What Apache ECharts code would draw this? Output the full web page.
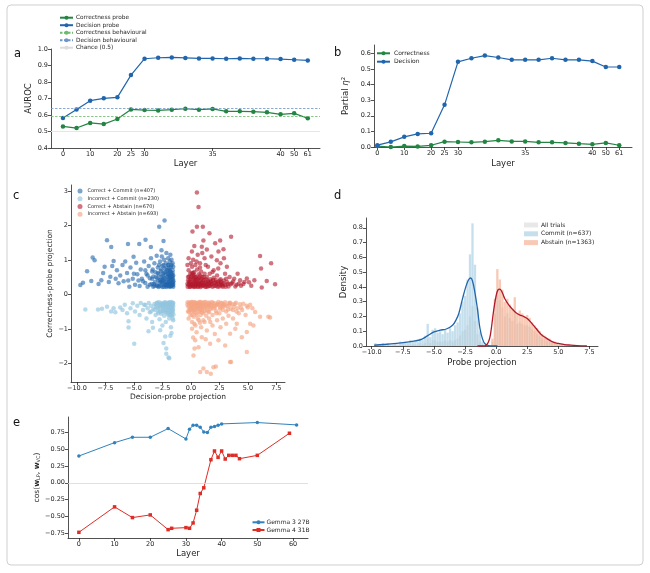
<!DOCTYPE html>
<html>
<head>
<meta charset="utf-8">
<script src="https://cdn.jsdelivr.net/npm/echarts@6/dist/echarts.min.js"></script>
<style>
  html, body { margin: 0; background: #fff; }
  #chart { width: 650px; height: 573px; }
</style>
</head>
<body>
<div id="chart"></div>
<script>
// ---- panel a / b : per-layer probe results ----
const layers = [0, 5, 10, 15, 20, 25, 30, 31, 32, 33, 34, 35, 36, 37, 38, 39, 40, 50, 61];
const shownLayerIdx = [0, 2, 4, 5, 6, 11, 16, 17, 18];
const aurocCorrectness = [0.531, 0.521, 0.552, 0.545, 0.576, 0.634, 0.630, 0.628, 0.632, 0.638, 0.632, 0.637, 0.622, 0.622, 0.620, 0.616, 0.604, 0.610, 0.580];
const aurocDecision = [0.582, 0.634, 0.687, 0.701, 0.707, 0.842, 0.941, 0.947, 0.949, 0.946, 0.943, 0.943, 0.941, 0.943, 0.941, 0.941, 0.939, 0.935, 0.931];
const behavCorrectness = 0.590;
const behavDecision = 0.644;
const chanceLevel = 0.5;
const etaCorrectness = [0.006, 0.0, 0.006, 0.004, 0.011, 0.034, 0.032, 0.030, 0.034, 0.043, 0.036, 0.036, 0.030, 0.030, 0.026, 0.021, 0.017, 0.026, 0.011];
const etaDecision = [0.012, 0.033, 0.065, 0.084, 0.088, 0.270, 0.545, 0.568, 0.585, 0.573, 0.558, 0.558, 0.558, 0.568, 0.558, 0.558, 0.550, 0.512, 0.512];

// ---- panel c : projections (decision, correctness) ----
const correctCommit = [
  [-9.7,0.27],[-9.47,0.34],[-9.11,0.67],[-8.74,0.39],[-8.62,1.07],[-8.45,0.99],[-7.86,0.41],[-7.57,0.80],[-7.36,1.57],[-6.99,1.37],
  [-6.78,0.97],[-7.07,0.51],[-6.49,0.70],[-6.35,0.32],[-5.76,0.95],[-5.52,1.46],[-5.03,1.09],[-4.53,1.46],[-3.98,1.58],[-3.51,1.37],
  [-2.78,1.96],[-2.31,2.14],[-2.40,1.55],[-2.58,1.28],
  [-8.1,0.3],[-7.7,0.62],[-7.2,0.36],[-6.9,0.82],[-6.6,0.45],[-6.2,0.55],[-6.0,0.85],[-5.9,0.38],[-5.6,0.62],[-5.4,0.22],
  [-5.3,0.78],[-5.1,0.45],[-4.9,0.28],[-4.8,0.92],[-4.7,0.58],[-4.5,0.24],[-4.4,0.72],[-4.3,0.45],[-4.1,0.95],[-4.0,0.33],
  [-3.9,0.6],[-3.8,0.22],[-3.7,0.82],[-3.6,0.47],[-3.5,1.05],[-3.45,0.3],[-3.4,0.66],
  [-3.3,0.22],[-3.3,0.52],[-3.2,0.9],[-3.15,0.36],[-3.1,0.64],[-3.0,0.26],[-3.0,1.12],[-2.95,0.47],[-2.9,0.78],[-2.85,0.21],
  [-2.8,0.58],[-2.75,0.34],[-2.7,0.95],[-2.7,0.42],[-2.65,0.68],[-2.6,0.26],[-2.55,1.1],[-2.5,0.52],[-2.5,0.82],[-2.45,0.32],
  [-2.4,0.62],[-2.35,0.22],[-2.35,1.0],[-2.3,0.45],[-2.3,0.75],[-2.25,0.3],[-2.2,0.56],[-2.2,0.9],[-2.15,0.21],[-2.15,1.2],
  [-2.1,0.38],[-2.1,0.68],[-2.05,0.27],[-2.05,0.5],[-2.0,0.85],[-2.0,1.05],[-1.95,0.34],[-1.95,0.6],[-1.9,0.23],[-1.9,0.45],
  [-1.9,0.75],[-1.85,0.3],[-1.85,0.55],[-1.85,0.95],[-1.8,0.4],[-1.8,0.66],[-1.8,1.15],[-1.75,0.25],[-1.75,0.5],[-1.75,0.8],
  [-1.7,0.33],[-1.7,0.6],[-1.7,1.0],[-1.65,0.28],[-1.65,0.45],[-1.6,0.37],[-1.6,0.7],[-1.6,0.9],[-1.55,0.22],[-1.55,0.55],
  [-1.55,0.31],[-1.6,0.5],[-2.2,0.26],[-2.6,0.36],[-3.6,0.28],[-4.2,0.38],[-2.0,0.31],[-1.7,0.24],[-2.4,0.4],[-1.9,0.29],
  [-3.4,0.45],[-3.35,0.72],[-3.25,0.3],[-3.05,0.5],[-2.95,0.25],[-2.9,0.62],[-2.85,0.4],[-2.8,0.85],[-2.75,0.24],[-2.65,0.5],
  [-2.6,0.72],[-2.55,0.38],[-2.5,0.21],[-2.45,0.6],[-2.4,0.85],[-2.35,0.48],[-2.3,0.28],[-2.25,0.65],[-2.2,0.36],[-2.15,0.78],
  [-2.1,0.26],[-2.05,0.6],[-2.0,0.45],[-1.95,0.25],[-1.95,0.85],[-1.9,0.55],[-1.88,0.38],[-1.85,0.7],[-1.82,0.22],[-1.8,0.5],
  [-1.78,0.3],[-1.75,0.62],[-1.72,0.42],[-1.7,0.85],[-1.68,0.27],[-1.65,0.55],[-1.62,0.33],[-1.6,0.62],[-1.58,0.44],[-1.56,0.27],
  [-1.55,0.8],[-1.53,0.38],[-3.8,0.55],[-4.0,0.7],[-4.6,0.4],[-5.0,0.6],[-5.5,0.4],[-3.2,0.25],[-2.5,0.42],[-2.0,0.7]
];
const incorrectCommit = [
  [-9.26,-0.44],[-8.15,-0.44],[-7.8,-0.42],[-7.36,-0.36],[-6.78,-0.40],[-6.63,-0.52],[-6.2,-0.38],[-5.47,-0.78],[-5.47,-0.96],[-4.97,-1.43],
  [-3.72,-1.07],[-3.33,-0.97],[-2.69,-1.04],[-2.25,-1.22],[-2.16,-1.57],[-2.16,-1.72],[-1.96,-1.83],[-1.90,-1.85],[-2.40,-1.41],[-1.8,-1.2],
  [-1.7,-1.12],[-7.0,-0.5],[-6.0,-0.45],[-5.8,-0.3],[-5.6,-0.55],[-5.3,-0.4],[-5.1,-0.26],[-4.9,-0.5],[-4.7,-0.33],[-4.5,-0.6],
  [-4.4,-0.25],[-4.2,-0.45],[-4.0,-0.31],[-3.9,-0.7],[-3.8,-0.4],[-3.7,-0.25],[-3.6,-0.52],[-3.5,-0.33],[-3.4,-0.8],[-3.3,-0.42],
  [-3.2,-0.28],[-3.1,-0.6],[-3.0,-0.37],[-2.95,-0.24],[-2.9,-0.5],[-2.8,-0.31],[-2.75,-0.72],[-2.7,-0.42],[-2.6,-0.25],[-2.6,-0.56],
  [-2.5,-0.35],[-2.5,-0.9],[-2.45,-0.47],[-2.4,-0.28],[-2.35,-0.62],[-2.3,-0.39],[-2.25,-0.23],[-2.2,-0.52],[-2.2,-0.8],[-2.15,-0.33],
  [-2.1,-0.45],[-2.05,-0.26],[-2.0,-0.6],[-2.0,-0.37],[-1.95,-0.5],[-1.9,-0.29],[-1.9,-0.7],[-1.85,-0.42],[-1.8,-0.24],[-1.8,-0.55],
  [-1.75,-0.34],[-1.75,-0.95],[-1.7,-0.48],[-1.7,-0.28],[-1.65,-0.62],[-1.65,-0.4],[-1.6,-0.25],[-1.6,-0.52],[-1.55,-0.35],[-1.55,-0.75],
  [-2.3,-0.27],[-1.85,-0.32],[-2.7,-0.3],[-3.1,-0.33],
  [-3.2,-0.45],[-3.0,-0.25],[-2.9,-0.4],[-2.85,-0.55],[-2.8,-0.23],[-2.7,-0.5],[-2.65,-0.35],[-2.55,-0.28],[-2.5,-0.5],[-2.45,-0.3],
  [-2.4,-0.4],[-2.35,-0.24],[-2.3,-0.5],[-2.25,-0.36],[-2.2,-0.28],[-2.15,-0.45],[-2.1,-0.3],[-2.05,-0.55],[-2.0,-0.24],[-1.98,-0.42],
  [-1.95,-0.33],[-1.9,-0.5],[-1.88,-0.23],[-1.85,-0.6],[-1.82,-0.36],[-1.8,-0.45],[-1.77,-0.28],[-1.74,-0.6],[-1.72,-0.38],[-1.7,-0.22],
  [-1.68,-0.5],[-1.65,-0.3],[-1.62,-0.44],[-1.6,-0.7],[-1.58,-0.3],[-1.56,-0.45],[-1.54,-0.25],[-1.53,-0.58],[-3.5,-0.5],[-4.1,-0.3]
];
const correctAbstain = [
  [0.53,2.95],[0.67,2.53],[0.14,1.82],[0.53,1.96],[1.05,1.96],[1.63,1.77],[1.10,1.56],[2.13,1.48],[2.57,1.56],[3.53,1.67],
  [2.86,1.31],[2.42,1.24],[6.07,1.11],[7.04,0.90],[7.39,0.29],[6.16,0.75],[5.57,0.41],[6.66,0.39],[6.22,0.20],[4.91,0.46],
  [4.32,0.41],[0.96,1.38],[0.09,1.24],[2.28,0.99],[3.16,0.80],
  [0.2,1.0],[0.4,0.85],[0.6,1.15],[0.8,0.9],[1.2,1.05],[1.5,0.8],[1.8,1.1],[2.0,0.7],[2.6,0.9],[3.0,0.6],
  [3.4,0.5],[3.8,0.45],[4.1,0.6],[4.6,0.3],[5.1,0.35],[5.3,0.25],[4.0,0.28],[3.6,0.32],[0.3,1.4],[1.4,1.3],[2.9,1.05],
  [-0.3,0.3],[-0.25,0.5],[-0.2,0.7],[-0.15,0.36],[-0.1,0.22],[-0.05,0.6],[0.0,0.45],[0.05,0.28],[0.1,0.8],[0.15,0.55],
  [0.2,0.33],[0.25,0.21],[0.3,0.65],[0.35,0.42],[0.4,0.26],[0.45,0.5],[0.5,0.33],[0.55,0.72],[0.6,0.23],[0.65,0.45],
  [0.7,0.58],[0.75,0.3],[0.8,0.4],[0.85,0.21],[0.9,0.66],[0.95,0.34],[1.0,0.5],[1.1,0.26],[1.15,0.42],[1.2,0.6],
  [1.3,0.32],[1.35,0.22],[1.4,0.5],[1.5,0.36],[1.6,0.26],[1.65,0.6],[1.7,0.44],[1.8,0.3],[1.9,0.22],[2.0,0.48],
  [2.1,0.33],[2.2,0.25],[2.3,0.55],[2.4,0.36],[2.5,0.23],[2.6,0.44],[2.7,0.3],[2.8,0.22],[2.9,0.4],[3.0,0.28],
  [3.2,0.35],[3.3,0.23],[3.5,0.29],[3.7,0.37],[3.9,0.23],[4.2,0.31],[4.4,0.25],[4.7,0.36],[0.0,0.9],[-0.2,1.05],
  [0.5,0.95],[0.8,0.78],[1.3,0.85],[1.0,1.2],[0.2,0.62],[-0.3,0.85],[1.9,0.65],[2.4,0.75],[0.1,0.24],[0.6,0.3],
  [1.2,0.28],[1.8,0.38],[2.2,0.42],[2.6,0.27],[3.1,0.45],[0.35,0.3],[0.9,0.27],[1.5,0.23],[-0.1,0.4],[0.3,0.5],
  [-0.28,0.22],[-0.25,0.4],[-0.2,0.28],[-0.15,0.52],[-0.12,0.3],[-0.05,0.22],[0.0,0.34],[0.05,0.5],[0.08,0.62],[0.12,0.3],
  [0.18,0.44],[0.22,0.25],[0.28,0.38],[0.32,0.55],[0.38,0.22],[0.42,0.4],[0.48,0.28],[0.52,0.46],[0.58,0.36],[0.62,0.22],
  [0.68,0.34],[0.72,0.48],[0.78,0.26],[0.82,0.55],[0.88,0.33],[0.92,0.44],[0.98,0.24],[1.05,0.38],[1.12,0.5],[1.18,0.32],
  [1.25,0.22],[1.32,0.44],[1.42,0.3],[1.48,0.4],[1.58,0.33],[1.68,0.24],[1.75,0.36],[1.85,0.3],[1.95,0.42],[2.05,0.24],
  [2.15,0.36],[2.25,0.3],[2.35,0.22],[2.45,0.32],[2.55,0.4],[2.65,0.35],[2.75,0.26],[2.85,0.32],[3.05,0.22],[3.25,0.3]
];
const incorrectAbstain = [
  [1.10,-2.15],[1.40,-2.25],[1.75,-2.30],[2.19,-2.09],[3.53,-1.96],[0.23,-1.77],[0.32,-1.57],[0.67,-1.53],[0.38,-1.33],[0.96,-1.24],
  [1.69,-1.43],[2.42,-1.33],[3.01,-1.48],[3.44,-1.14],[4.03,-0.85],[4.47,-1.24],[4.91,-1.09],[5.2,-0.85],[6.07,-0.65],[6.95,-0.67],
  [5.64,-0.51],[6.80,-0.65],[5.49,-0.90],[4.91,-1.67],[3.44,-1.96],[1.98,-2.11],[0.82,-2.25],
  [0.1,-1.0],[0.3,-0.85],[0.5,-1.1],[0.7,-0.75],[0.9,-0.95],[1.2,-0.8],[1.4,-1.05],[1.6,-0.7],[1.9,-0.9],[2.1,-1.15],
  [2.3,-0.75],[2.6,-0.95],[2.8,-0.7],[3.1,-0.85],[3.3,-0.62],[3.7,-0.7],[4.2,-0.55],[4.5,-0.45],[4.8,-0.6],[5.0,-0.38],
  [5.4,-0.4],[3.9,-1.0],[1.3,-1.3],[0.2,-1.25],
  [-0.3,-0.3],[-0.25,-0.5],[-0.2,-0.7],[-0.15,-0.24],[-0.1,-0.4],[-0.05,-0.6],[0.0,-0.32],[0.05,-0.22],[0.1,-0.5],[0.15,-0.37],
  [0.2,-0.27],[0.25,-0.65],[0.3,-0.44],[0.35,-0.23],[0.4,-0.33],[0.45,-0.55],[0.5,-0.26],[0.55,-0.42],[0.6,-0.7],[0.65,-0.3],
  [0.7,-0.5],[0.75,-0.22],[0.8,-0.37],[0.85,-0.6],[0.9,-0.27],[0.95,-0.45],[1.0,-0.32],[1.1,-0.55],[1.15,-0.23],[1.2,-0.4],
  [1.3,-0.29],[1.35,-0.62],[1.4,-0.46],[1.5,-0.24],[1.55,-0.35],[1.6,-0.52],[1.7,-0.29],[1.8,-0.42],[1.85,-0.22],[1.9,-0.6],
  [2.0,-0.34],[2.1,-0.26],[2.2,-0.48],[2.3,-0.31],[2.4,-0.22],[2.5,-0.55],[2.6,-0.37],[2.7,-0.26],[2.8,-0.45],[2.9,-0.29],
  [3.0,-0.23],[3.1,-0.5],[3.2,-0.34],[3.35,-0.25],[3.5,-0.42],[3.6,-0.29],[3.8,-0.36],[3.95,-0.24],[4.1,-0.4],[4.3,-0.29],
  [4.6,-0.27],[4.9,-0.33],[5.2,-0.3],[0.1,-0.8],[0.4,-0.9],[0.8,-0.82],[1.1,-0.75],[1.7,-0.8],[0.0,-0.45],[0.6,-0.35],
  [1.25,-0.33],[2.05,-0.4],[2.75,-0.33],[3.4,-0.3],[0.3,-0.3],[0.9,-0.38],[1.6,-0.31],[2.35,-0.28],
  [-0.28,-0.23],[-0.22,-0.36],[-0.18,-0.5],[-0.12,-0.28],[-0.08,-0.45],[-0.02,-0.24],[0.02,-0.38],[0.08,-0.3],[0.12,-0.6],[0.18,-0.22],
  [0.22,-0.4],[0.28,-0.52],[0.32,-0.3],[0.38,-0.45],[0.42,-0.24],[0.48,-0.36],[0.52,-0.6],[0.58,-0.28],[0.62,-0.42],[0.68,-0.24],
  [0.72,-0.35],[0.78,-0.5],[0.82,-0.28],[0.88,-0.22],[0.92,-0.4],[0.98,-0.52],[1.05,-0.26],[1.12,-0.36],[1.18,-0.48],[1.28,-0.22],
  [1.38,-0.32],[1.45,-0.38],[1.52,-0.5],[1.62,-0.24],[1.72,-0.4],[1.78,-0.32],[1.95,-0.26],[2.12,-0.36],[2.25,-0.55],[2.45,-0.3],
  [2.55,-0.42],[2.65,-0.24],[2.85,-0.36],[3.05,-0.32],[3.25,-0.44],[3.45,-0.24],[3.7,-0.45],[3.85,-0.28],[4.0,-0.5],[4.4,-0.38]
];

// ---- panel d : histograms (bin width 0.2) and density curves ----
const binWidth = 0.2;
const commitFirstBin = -9.7;
const commitHist = [0.02,0.01,0.01,0.02,0.01,0.02,0.01,0.01,0.02,0.01,
                    0.03,0.02,0.03,0.02,0.04,0.03,0.04,0.03,0.05,0.04,
                    0.07,0.15,0.06,0.11,0.12,0.09,0.10,0.08,0.11,0.09,
                    0.12,0.10,0.14,0.16,0.22,0.30,0.34,0.45,0.62,0.83,
                    0.55,0.26,0.10,0.03];
const abstainFirstBin = -0.3;
const abstainHist = [0.05,0.32,0.52,0.45,0.38,0.30,0.32,0.28,0.25,0.33,
                     0.22,0.24,0.22,0.20,0.21,0.19,0.16,0.14,0.12,0.10,
                     0.08,0.07,0.05,0.05,0.03,0.03,0.02,0.02,0.015,0.01,
                     0.01,0.005,0.005,0.005];
const allFirstBin = -9.7;
const allHist = [0.01,0.0,0.0,0.01,0.0,0.01,0.0,0.0,0.01,0.0,
                 0.01,0.01,0.01,0.01,0.01,0.01,0.01,0.01,0.02,0.01,
                 0.02,0.05,0.02,0.04,0.04,0.03,0.03,0.03,0.04,0.03,
                 0.04,0.03,0.04,0.05,0.07,0.10,0.11,0.14,0.20,0.27,
                 0.17,0.08,0.03,0.01,0.0,0.0,0.0,
                 0.03,0.22,0.35,0.31,0.26,0.20,0.22,0.19,0.17,0.23,
                 0.15,0.16,0.15,0.14,0.14,0.13,0.11,0.10,0.08,0.07,
                 0.05,0.05,0.03,0.03,0.02,0.02,0.01,0.01,0.01,0.01,
                 0.01,0.0,0.0,0.0];
const kdeCommitX = [-9.8,-9,-8,-7,-6.5,-6,-5.5,-5,-4.5,-4,-3.5,-3.2,-3,-2.7,-2.4,-2.2,-2.05,-1.9,-1.7,-1.5,-1.3,-1.1,-0.9,-0.6,-0.3,0.1];
const kdeCommitY = [0.005,0.01,0.018,0.028,0.035,0.045,0.07,0.095,0.107,0.115,0.14,0.18,0.22,0.32,0.41,0.45,0.46,0.44,0.36,0.25,0.12,0.05,0.015,0.002,0,0];
const kdeAbstainX = [-1.5,-1.0,-0.8,-0.6,-0.45,-0.2,0.0,0.15,0.3,0.5,0.7,1.0,1.3,1.6,1.9,2.2,2.5,2.8,3.2,3.6,4.0,4.5,5.0,5.5,6.0,6.5,7.0,7.3];
const kdeAbstainY = [0,0,0.005,0.03,0.08,0.24,0.34,0.38,0.385,0.36,0.32,0.28,0.25,0.225,0.21,0.2,0.186,0.16,0.12,0.08,0.055,0.03,0.017,0.01,0.006,0.003,0.001,0];

// ---- panel e : cosine between probe directions ----
const gemma3Layers = [0, 10, 15, 20, 25, 30, 31, 32, 33, 34, 35, 36, 37, 38, 39, 40, 50, 61];
const gemma3Cos = [0.40, 0.60, 0.68, 0.68, 0.81, 0.655, 0.80, 0.86, 0.86, 0.83, 0.76, 0.75, 0.83, 0.84, 0.86, 0.88, 0.90, 0.865];
const gemma4Layers = [0, 10, 15, 20, 25, 26, 30, 31, 32, 33, 34, 35, 37, 38, 39, 40, 41, 42, 43, 44, 45, 50, 59];
const gemma4Cos = [-0.74, -0.36, -0.52, -0.48, -0.70, -0.68, -0.67, -0.68, -0.60, -0.41, -0.16, -0.075, 0.345, 0.475, 0.38, 0.475, 0.355, 0.41, 0.41, 0.41, 0.36, 0.41, 0.74];

const FONT = 'DejaVu Sans';
const INK = '#262626';
const GREEN = '#238443', BLUE = '#2166ac';

function minus(s) { return String(s).replace('-', '\u2212'); }
function merge(a, b) {
  const out = Object.assign({}, a);
  for (const k in b) {
    if (b[k] && typeof b[k] === 'object' && !Array.isArray(b[k]) && a[k] && typeof a[k] === 'object') out[k] = merge(a[k], b[k]);
    else out[k] = b[k];
  }
  return out;
}
function axis(grid, o) {
  return merge({
    gridIndex: grid, type: 'value',
    splitLine: { show: false },
    axisLine: { show: true, onZero: false, lineStyle: { color: INK, width: 0.8 } },
    axisTick: { show: true, length: 3, lineStyle: { color: INK, width: 0.8 } },
    axisLabel: { fontSize: 6.5, color: INK, margin: 3, fontFamily: FONT },
    nameLocation: 'middle',
    nameTextStyle: { fontSize: 8.5, color: INK, fontFamily: FONT }
  }, o);
}
function ticks(vals, fmt) {
  return { axisLabel: { customValues: vals, formatter: fmt }, axisTick: { customValues: vals } };
}
const pairs = (xs, ys) => xs.map((x, i) => [x, ys[i]]);
const idxPairs = ys => ys.map((y, i) => [i, y]);
const binPairs = (start, hs) => hs.map((h, i) => [+(start + i * binWidth).toFixed(2), h]);
const legendText = (size, pad) => ({ fontSize: size, lineHeight: size + 1.2, color: INK, fontFamily: FONT, padding: [0, 0, 0, pad] });

const layerFmt = v => String(layers[Math.round(v)]);
const oneDec = v => minus(v.toFixed(1));
const twoDec = v => minus(v.toFixed(2));

const option = {
  animation: false,
  backgroundColor: '#fff',
  textStyle: { fontFamily: FONT },
  grid: [
    { left: 51, top: 49, width: 269, height: 99 },
    { left: 374, top: 45, width: 258, height: 102 },
    { left: 71, top: 185, width: 214, height: 197 },
    { left: 366, top: 218, width: 232, height: 128 },
    { left: 68, top: 417, width: 240, height: 121 }
  ],
  xAxis: [
    axis(0, merge({ min: -0.88, max: 18.9, name: 'Layer', nameGap: 11.5 }, ticks(shownLayerIdx, layerFmt))),
    axis(1, merge({ min: -0.25, max: 18.95, name: 'Layer', nameGap: 12 }, ticks(shownLayerIdx, layerFmt))),
    axis(2, merge({ min: -10.52, max: 8.26, name: 'Decision-probe projection', nameGap: 11, nameTextStyle: { fontSize: 7.5 } },
      ticks([-10, -7.5, -5, -2.5, 0, 2.5, 5, 7.5], oneDec))),
    axis(3, merge({ min: -10.46, max: 8.19, name: 'Probe projection', nameGap: 12 },
      ticks([-10, -7.5, -5, -2.5, 0, 2.5, 5, 7.5], oneDec))),
    axis(4, merge({ min: -3.05, max: 64.2, name: 'Layer', nameGap: 11 }, ticks([0, 10, 20, 30, 40, 50, 60], v => String(v))))
  ],
  yAxis: [
    axis(0, { min: 0.4, max: 1.0, interval: 0.1, name: 'AUROC', nameGap: 16, axisLabel: { formatter: oneDec } }),
    axis(1, merge({ min: 0, max: 0.653, name: 'Partial {i|η}²', nameGap: 24,
      nameTextStyle: { rich: { i: { fontStyle: 'italic', fontSize: 8.5, fontFamily: FONT } } } },
      ticks([0, 0.1, 0.2, 0.3, 0.4, 0.5, 0.6], oneDec))),
    axis(2, merge({ min: -2.54, max: 3.17, name: 'Correctness-probe projection', nameGap: 13.5, nameTextStyle: { fontSize: 7.5 } },
      ticks([-2, -1, 0, 1, 2, 3], v => minus(v)))),
    axis(3, merge({ min: 0, max: 0.866, name: 'Density', nameGap: 15.5 },
      ticks([0, 0.1, 0.2, 0.3, 0.4, 0.5, 0.6, 0.7, 0.8], oneDec))),
    axis(4, merge({ min: -0.825, max: 0.983, name: '{t|cos(}{b|w}{s|LP}{t|, }{b|w}{s|VC}{t|)}', nameGap: 22,
      nameTextStyle: { rich: {
        t: { fontSize: 7.5, fontFamily: FONT, color: INK },
        b: { fontSize: 7.5, fontFamily: FONT, fontWeight: 'bold', color: INK },
        s: { fontSize: 5, fontFamily: FONT, color: INK, verticalAlign: 'bottom' } } } },
      ticks([-0.75, -0.5, -0.25, 0, 0.25, 0.5, 0.75], twoDec)))
  ],
  legend: [
    { data: ['Correctness probe', 'Decision probe', 'Correctness behavioural', 'Decision behavioural', 'Chance (0.5)'],
      orient: 'vertical', left: 59, top: 14.2, itemWidth: 13, itemHeight: 5, itemGap: 0.5, padding: 0,
      textStyle: legendText(5.8, -2) },
    { data: ['Correctness', 'Decision'], orient: 'vertical', left: 376, top: 49.7, itemWidth: 13, itemHeight: 5,
      itemGap: 1.2, padding: 0, textStyle: legendText(6, -1) },
    { data: ['Correct + Commit (n=407)', 'Incorrect + Commit (n=230)', 'Correct + Abstain (n=670)', 'Incorrect + Abstain (n=693)'],
      orient: 'vertical', left: 77.5, top: 188, itemWidth: 5, itemHeight: 5, itemGap: 1.5, padding: 0, icon: 'circle',
      textStyle: legendText(5, 0) },
    { data: ['All trials', 'Commit (n=637)', 'Abstain (n=1363)'], orient: 'vertical', left: 524, top: 221.4,
      itemWidth: 14, itemHeight: 5, itemGap: 1.6, padding: 0, icon: 'rect', textStyle: legendText(6, -2) },
    { data: ['Gemma 3 27B', 'Gemma 4 31B'], orient: 'vertical', left: 251.5, top: 518.7, itemWidth: 12, itemHeight: 5,
      itemGap: 0.5, padding: 0, textStyle: legendText(6, -3) }
  ],
  series: [
    // panel a
    { name: 'Chance (0.5)', type: 'line', xAxisIndex: 0, yAxisIndex: 0, data: [], symbol: 'none',
      lineStyle: { color: '#dcdcdc', width: 0.9 }, itemStyle: { color: '#dcdcdc' },
      markLine: { silent: true, symbol: 'none', label: { show: false }, lineStyle: { color: '#e6e6e6', width: 1, type: 'solid' },
        data: [{ yAxis: chanceLevel }] } },
    { name: 'Correctness behavioural', type: 'line', xAxisIndex: 0, yAxisIndex: 0, data: [], symbol: 'none',
      lineStyle: { color: '#6dbb6d', width: 0.8, type: [2.5, 1.5] }, itemStyle: { color: '#6dbb6d' },
      markLine: { silent: true, symbol: 'none', label: { show: false }, lineStyle: { color: '#6dbb6d', width: 0.8, type: [2.5, 1.5] },
        data: [{ yAxis: behavCorrectness }] } },
    { name: 'Decision behavioural', type: 'line', xAxisIndex: 0, yAxisIndex: 0, data: [], symbol: 'none',
      lineStyle: { color: '#6f95c8', width: 0.8, type: [2.5, 1.5] }, itemStyle: { color: '#6f95c8' },
      markLine: { silent: true, symbol: 'none', label: { show: false }, lineStyle: { color: '#6f95c8', width: 0.8, type: [2.5, 1.5] },
        data: [{ yAxis: behavDecision }] } },
    { name: 'Correctness probe', type: 'line', xAxisIndex: 0, yAxisIndex: 0, data: idxPairs(aurocCorrectness),
      symbol: 'circle', symbolSize: 4.5, lineStyle: { color: GREEN, width: 1.2 }, itemStyle: { color: GREEN } },
    { name: 'Decision probe', type: 'line', xAxisIndex: 0, yAxisIndex: 0, data: idxPairs(aurocDecision),
      symbol: 'circle', symbolSize: 4.5, lineStyle: { color: BLUE, width: 1.2 }, itemStyle: { color: BLUE } },
    // panel b
    { name: 'Correctness', type: 'line', xAxisIndex: 1, yAxisIndex: 1, data: idxPairs(etaCorrectness),
      symbol: 'circle', symbolSize: 4.5, lineStyle: { color: GREEN, width: 1.2 }, itemStyle: { color: GREEN } },
    { name: 'Decision', type: 'line', xAxisIndex: 1, yAxisIndex: 1, data: idxPairs(etaDecision),
      symbol: 'circle', symbolSize: 4.5, lineStyle: { color: BLUE, width: 1.2 }, itemStyle: { color: BLUE } },
    // panel c
    { name: 'Correct + Commit (n=407)', type: 'scatter', xAxisIndex: 2, yAxisIndex: 2, data: correctCommit,
      symbolSize: 4.5, itemStyle: { color: '#2166ac', opacity: 0.6 } },
    { name: 'Incorrect + Commit (n=230)', type: 'scatter', xAxisIndex: 2, yAxisIndex: 2, data: incorrectCommit,
      symbolSize: 4.5, itemStyle: { color: '#92c5de', opacity: 0.65 } },
    { name: 'Correct + Abstain (n=670)', type: 'scatter', xAxisIndex: 2, yAxisIndex: 2, data: correctAbstain,
      symbolSize: 4.5, itemStyle: { color: '#b2182b', opacity: 0.6 } },
    { name: 'Incorrect + Abstain (n=693)', type: 'scatter', xAxisIndex: 2, yAxisIndex: 2, data: incorrectAbstain,
      symbolSize: 4.5, itemStyle: { color: '#f4a582', opacity: 0.65 } },
    // panel d
    { name: 'All trials', type: 'bar', xAxisIndex: 3, yAxisIndex: 3, data: binPairs(allFirstBin, allHist),
      barWidth: 2.3, barGap: '-100%', itemStyle: { color: '#bdbdbd', opacity: 0.35 } },
    { name: 'Commit (n=637)', type: 'bar', xAxisIndex: 3, yAxisIndex: 3, data: binPairs(commitFirstBin, commitHist),
      barWidth: 2.3, barGap: '-100%', itemStyle: { color: '#9ecae1', opacity: 0.6 } },
    { name: 'Abstain (n=1363)', type: 'bar', xAxisIndex: 3, yAxisIndex: 3, data: binPairs(abstainFirstBin, abstainHist),
      barWidth: 2.3, barGap: '-100%', itemStyle: { color: '#f4a582', opacity: 0.6 } },
    { name: 'kde commit', type: 'line', xAxisIndex: 3, yAxisIndex: 3, data: pairs(kdeCommitX, kdeCommitY),
      smooth: 0.4, symbol: 'none', lineStyle: { color: '#2166ac', width: 1.3 }, z: 5 },
    { name: 'kde abstain', type: 'line', xAxisIndex: 3, yAxisIndex: 3, data: pairs(kdeAbstainX, kdeAbstainY),
      smooth: 0.4, symbol: 'none', lineStyle: { color: '#b2182b', width: 1.3 }, z: 5 },
    // panel e
    { name: 'Gemma 3 27B', type: 'line', xAxisIndex: 4, yAxisIndex: 4, data: pairs(gemma3Layers, gemma3Cos),
      symbol: 'circle', symbolSize: 3.5, lineStyle: { color: '#3182bd', width: 1 }, itemStyle: { color: '#3182bd' },
      markLine: { silent: true, symbol: 'none', label: { show: false }, lineStyle: { color: '#d9d9d9', width: 0.8, type: 'solid' },
        data: [{ yAxis: 0 }] } },
    { name: 'Gemma 4 31B', type: 'line', xAxisIndex: 4, yAxisIndex: 4, data: pairs(gemma4Layers, gemma4Cos),
      symbol: 'rect', symbolSize: 3.5, lineStyle: { color: '#de2d26', width: 1 }, itemStyle: { color: '#de2d26' } }
  ],
  graphic: [
    { type: 'rect', shape: { x: 7, y: 5, width: 636, height: 560, r: 4 }, style: { fill: 'none', stroke: '#cfcfcf', lineWidth: 1 }, silent: true },
    { type: 'text', x: 14, y: 54, style: { text: 'a', fontSize: 11.5, fontFamily: FONT, fill: '#111', verticalAlign: 'middle' } },
    { type: 'text', x: 334, y: 53.5, style: { text: 'b', fontSize: 11.5, fontFamily: FONT, fill: '#111', verticalAlign: 'middle' } },
    { type: 'text', x: 13, y: 196, style: { text: 'c', fontSize: 11.5, fontFamily: FONT, fill: '#111', verticalAlign: 'middle' } },
    { type: 'text', x: 334, y: 196, style: { text: 'd', fontSize: 11.5, fontFamily: FONT, fill: '#111', verticalAlign: 'middle' } },
    { type: 'text', x: 13, y: 423.5, style: { text: 'e', fontSize: 11.5, fontFamily: FONT, fill: '#111', verticalAlign: 'middle' } }
  ]
};

const chart = echarts.init(document.getElementById('chart'));
chart.setOption(option);
</script>
</body>
</html>
